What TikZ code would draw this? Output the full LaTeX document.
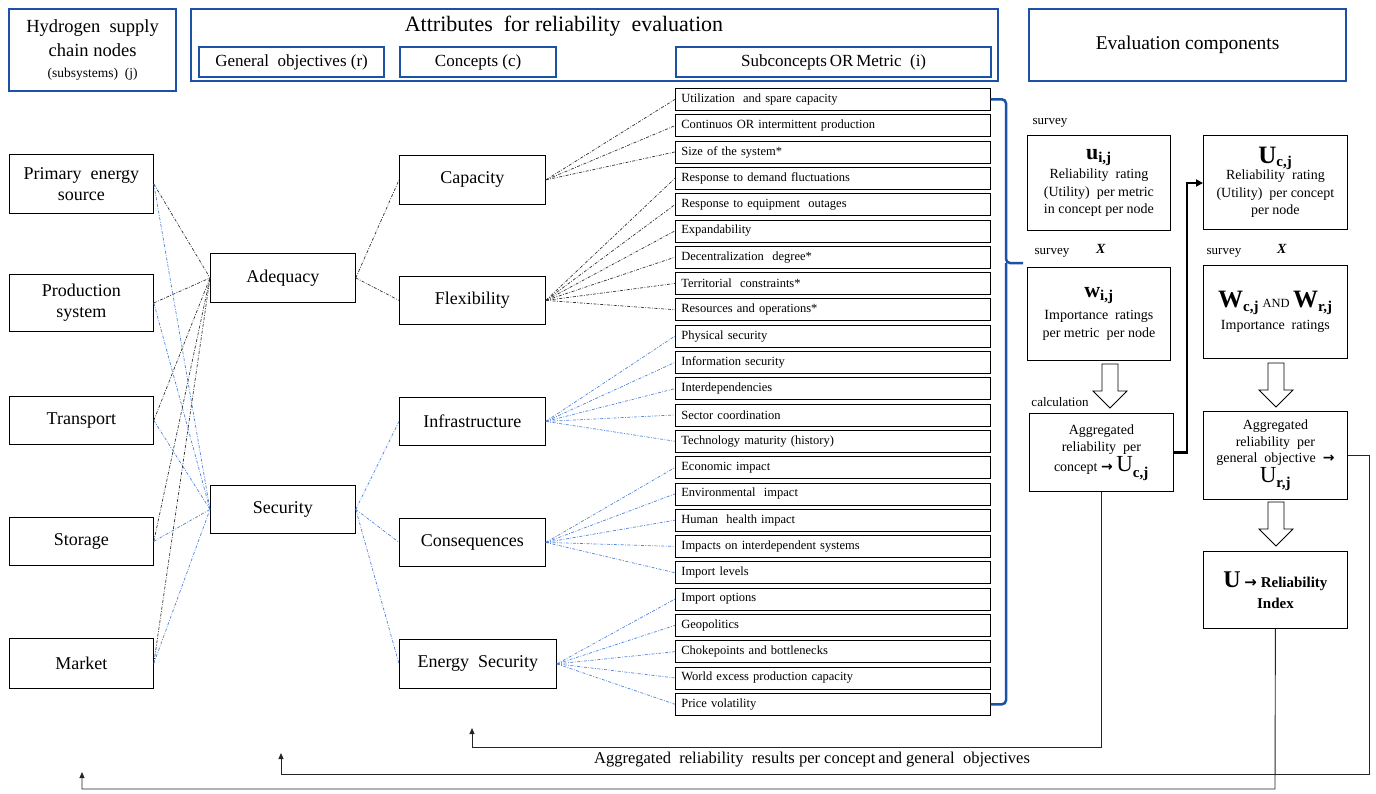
\documentclass[tikz,border=0pt]{standalone}
\usepackage{fontspec}
\setmainfont{Liberation Serif}
\newfontfamily\dv{DejaVu Sans}
\usetikzlibrary{arrows.meta,calc}
\definecolor{frameblue}{RGB}{28,82,165}
\definecolor{lineblue}{RGB}{80,130,220}
\definecolor{linegray}{RGB}{50,50,50}
\newdimen\fsd
\newcommand{\fs}[1]{\fsd=#1pt\fsd=1.18\fsd\fontsize{#1}{\the\fsd}\selectfont}
\newcommand{\rar}{{\dv\bfseries →}}
\begin{document}
\begin{tikzpicture}[x=1pt,y=-1pt,
  hdr/.style={draw=frameblue,line width=2.2pt,anchor=north west,inner sep=0pt,align=center},
  box/.style={draw,line width=0.8pt,anchor=north west,inner sep=0pt,align=center},
  metric/.style={draw,line width=0.7pt,anchor=north west,inner sep=0pt,inner xsep=6pt,
    text width=303pt,minimum height=22pt,align=left,font=\fs{12.5}},
  blk/.style={draw=linegray,line width=0.7pt,dash pattern=on 3pt off 1.5pt on 0.8pt off 1.5pt},
  blu/.style={draw=lineblue,line width=0.7pt,dash pattern=on 3pt off 1.5pt on 0.8pt off 1.5pt},
  fb/.style={draw=black!85,line width=0.9pt,-{Triangle[length=6pt,width=5pt]}},
  hollow/.pic={\draw[line width=0.8pt,fill=white] (-8,0) -- (-8,27) -- (-17,27) -- (0,44) -- (17,27) -- (8,27) -- (8,0) -- cycle;}
]
\useasboundingbox (0,0) rectangle (1376,793);
% header
\node[hdr,minimum width=167,minimum height=82,font=\fs{18.5}] (hsc) at (8,8)
  {Hydrogen\ \ supply\\[2pt] chain nodes\\[-1pt] {\fs{13.5}(subsystems)\ \ (j)}};
\node[hdr,minimum width=807,minimum height=72] (attr) at (190,8) {};
\node[font=\fs{22}] (attrt) at (564,26) {Attributes\ \ for reliability\ \ evaluation};
\node[hdr,minimum width=185,minimum height=30,font=\fs{17}] (gob) at (198,46) {General\ \ objectives (r)};
\node[hdr,minimum width=156,minimum height=30,font=\fs{17}] (con) at (399,46) {Concepts (c)};
\node[hdr,minimum width=315,minimum height=30,font=\fs{17}] (sub) at (675,46) {Subconcepts\,OR\,Metric\ \ (i)};
\node[hdr,minimum width=317,minimum height=72,font=\fs{19.5}] (evc) at (1028,8) {Evaluation components};
% left nodes
\node[box,minimum width=144,minimum height=59,font=\fs{18}] (pes) at (9,154) {Primary\ \ energy\\ source};
\node[box,minimum width=144,minimum height=57,font=\fs{18}] (prs) at (9,274) {Production\\ system};
\node[box,minimum width=144,minimum height=48,font=\fs{18}] (tra) at (9,396) {Transport};
\node[box,minimum width=144,minimum height=48,font=\fs{18}] (sto) at (9,517) {Storage};
\node[box,minimum width=144,minimum height=50,font=\fs{18}] (mar) at (9,638) {Market};
% objectives
\node[box,minimum width=145,minimum height=49,font=\fs{18}] (ade) at (210,253) {Adequacy};
\node[box,minimum width=145,minimum height=48,font=\fs{18}] (sec) at (210,485) {Security};
% concepts
\node[box,minimum width=146,minimum height=49,font=\fs{18}] (cap) at (399,155) {Capacity};
\node[box,minimum width=146,minimum height=48,font=\fs{18}] (fle) at (399,276) {Flexibility};
\node[box,minimum width=146,minimum height=48,font=\fs{18}] (inf) at (399,397) {Infrastructure};
\node[box,minimum width=146,minimum height=48,font=\fs{18}] (cqs) at (399,518) {Consequences};
\node[box,minimum width=157,minimum height=49,font=\fs{18}] (ens) at (399,639) {Energy\ \ Security};
% metrics
\foreach \t [count=\k from 0] in {Utilization\ \ and spare capacity,Continuos OR intermittent production,Size of the system*,Response to demand fluctuations,Response to equipment\ \ outages,Expandability,Decentralization\ \ degree*,Territorial\ \ constraints*,Resources and operations*,Physical security,Information security,Interdependencies,Sector coordination,Technology maturity (history),Economic impact,Environmental\ \ impact,Human\ \ health impact,Impacts on interdependent systems,Import levels,Import options,Geopolitics,Chokepoints and bottlenecks,World excess production capacity,Price volatility}
  {\node[metric] (m\k) at (675,{88+\k*26.3}) {\t};}
% left connectors
\foreach \n in {pes,prs,tra,sto,mar} {
  \draw[blk] (\n.east) -- (ade.west);
  \draw[blu] (\n.east) -- (sec.west);
}
\draw[blk] (ade.east) -- (cap.west);
\draw[blk] (ade.east) -- (fle.west);
\draw[blu] (sec.east) -- (inf.west);
\draw[blu] (sec.east) -- (cqs.west);
\draw[blu] (sec.east) -- (ens.west);
\foreach \k in {0,1,2} \draw[blk] (cap.east) -- (m\k.west);
\foreach \k in {3,...,8} \draw[blk] (fle.east) -- (m\k.west);
\foreach \k in {9,...,13} \draw[blu] (inf.east) -- (m\k.west);
\foreach \k in {14,...,18} \draw[blu] (cqs.east) -- (m\k.west);
\foreach \k in {19,...,23} \draw[blu] (ens.east) -- (m\k.west);
% brace
\coordinate (btip) at (1023,263);
\draw[frameblue,line width=2.5pt,rounded corners=4pt] (m0.east) -| (1006,263) -- (btip);
\draw[frameblue,line width=2.5pt,rounded corners=4pt] (m23.east) -| (1006,263);
% evaluation components
\node[font=\fs{13}] (sv1) at (1050,123) {survey};
\node[box,minimum width=143,minimum height=95,font=\fs{14}] (uij) at (1027,135)
  {{\fs{22}\textbf{u}\textsubscript{\fs{15}\textbf{i,j}}}\\[3pt] Reliability\ \ rating\\[1pt] (Utility)\ \ per metric\\[1pt] in concept per node};
\node[font=\fs{13}] (sv2) at (1052,253) {survey};
\node[font=\fs{14}] (x1) at (1101,249) {\textbf{\textit{X}}};
\node[box,minimum width=143,minimum height=93,font=\fs{14}] (wij) at (1027,267)
  {{\fs{22}\textbf{w}\textsubscript{\fs{15}\textbf{i,j}}}\\[6pt] Importance\ \ ratings\\[1pt] per metric\ \ per node};
\node[box,minimum width=144,minimum height=94,font=\fs{14}] (ucj) at (1203,135)
  {{\fs{25}\textbf{U}\textsubscript{\fs{15}\textbf{c,j}}}\\[-1pt] Reliability\ \ rating\\[1pt] (Utility)\ \ per concept\\[1pt] per node};
\node[font=\fs{13}] (sv3) at (1224,253) {survey};
\node[font=\fs{14}] (x2) at (1282,249) {\textbf{\textit{X}}};
\node[box,minimum width=144,minimum height=93,font=\fs{14}] (wcr) at (1203,265)
  {{\fs{25}\textbf{W}\textsubscript{\fs{15}\textbf{c,j}}}\ {\fs{12.5}AND}\ {\fs{25}\textbf{W}\textsubscript{\fs{15}\textbf{r,j}}}\\[6pt] Importance\ \ ratings};
\node[font=\fs{13}] (calc) at (1060,402) {calculation};
\node[box,minimum width=144,minimum height=78,font=\fs{14}] (agc) at (1029,413)
  {Aggregated\\[1pt] reliability\ \ per\\[1pt] concept \rar\ {\fs{23}U}\textsubscript{\fs{15}\textbf{c,j}}};
\node[box,minimum width=144,minimum height=88,font=\fs{14}] (agr) at (1203,411)
  {Aggregated\\ reliability\ \ per\\ general\ \ objective\ \ \rar\\ {\fs{23}U}\textsubscript{\fs{15}\textbf{r,j}}};
\node[box,minimum width=144,minimum height=77,font=\fs{15}] (idx) at (1203,551)
  {{\fs{24}\textbf{U}} \rar\ \textbf{Reliability}\\[3pt] \textbf{Index}};
% hollow arrows
\pic at (1110,364) {hollow};
\pic at (1276,363) {hollow};
\pic at (1276,502) {hollow};
% thick connector
\coordinate (tk) at (1187,183);
\draw[line width=2.2pt,-{Triangle[length=7pt,width=7pt]}] (agc.east) -| (tk) -- (ucj.west |- tk);
% feedback lines
\coordinate (e1) at (472,728);
\coordinate (e2) at (281,753);
\coordinate (e3) at (82,772);
\coordinate (c2) at (1369,774);
\coordinate (c3) at (1275,789);
\draw[fb] (agc.south) |- (1000,747) -| (e1);
\draw[fb] (agr.east) -| (c2) -| (e2);
\draw[fb] (idx.south) -- (c3) -| (e3);
\node[font=\fs{16.5}] (fbl) at (812,760) {Aggregated\ \ reliability\ \ results per concept\,and general\ \ objectives};
\end{tikzpicture}
\end{document}
